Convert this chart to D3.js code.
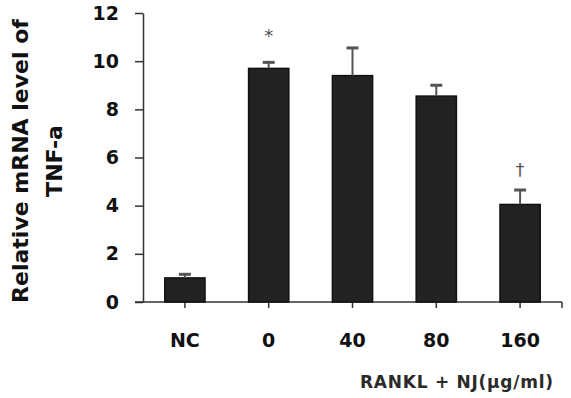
<!DOCTYPE html>
<html>
<head>
<meta charset="utf-8">
<script src="https://cdn.jsdelivr.net/npm/d3@7"></script>
<style>
  body { margin: 0; background: #fff; }
  svg { display: block; }
  .tick text { font-family: "DejaVu Sans", sans-serif; font-weight: bold; }
</style>
</head>
<body>
<svg id="chart" width="571" height="398"></svg>
<script>
// data
const categories = ['NC', '0', '40', '80', '160'];
const means = [1.0, 9.7, 9.4, 8.55, 4.05];
const errors = [0.15, 0.25, 1.15, 0.45, 0.6];
const marks = ['', '*', '', '', '†'];
const yTicks = [0, 2, 4, 6, 8, 10, 12];

const svg = d3.select('#chart');
const plotLeft = 143, plotRight = 562, plotTop = 13, plotBottom = 302;

const x = d3.scaleBand().domain(categories).range([plotLeft, plotRight]).paddingInner(0.52).paddingOuter(0.26);
const y = d3.scaleLinear().domain([0, 12]).range([plotBottom, plotTop]);

// y axis
const yAxis = svg.append('g')
  .attr('transform', `translate(${plotLeft},0)`)
  .call(d3.axisLeft(y).tickValues(yTicks).tickSize(8).tickPadding(16).tickSizeOuter(0));
yAxis.select('.domain').attr('stroke', '#333').attr('stroke-width', 1.5);
yAxis.selectAll('.tick line').attr('stroke', '#333').attr('stroke-width', 1.5);
yAxis.selectAll('.tick text').attr('font-size', 19).attr('fill', '#111');

// x axis line (extends slightly left of y axis) and ticks
svg.append('line')
  .attr('x1', plotLeft - 8).attr('x2', plotRight)
  .attr('y1', plotBottom).attr('y2', plotBottom)
  .attr('stroke', '#333').attr('stroke-width', 1.5);
svg.selectAll('.xtick')
  .data(categories)
  .join('line')
  .attr('x1', d => x(d) + x.bandwidth() / 2).attr('x2', d => x(d) + x.bandwidth() / 2)
  .attr('y1', plotBottom).attr('y2', plotBottom + 6)
  .attr('stroke', '#333').attr('stroke-width', 1.5);
svg.append('line')
  .attr('x1', plotRight).attr('x2', plotRight)
  .attr('y1', plotBottom).attr('y2', plotBottom + 6)
  .attr('stroke', '#333').attr('stroke-width', 1.5);

svg.selectAll('.xlab')
  .data(categories)
  .join('text')
  .attr('x', d => x(d) + x.bandwidth() / 2)
  .attr('y', 347)
  .attr('text-anchor', 'middle')
  .attr('font-family', '"DejaVu Sans", sans-serif')
  .attr('font-weight', 'bold')
  .attr('font-size', 19)
  .attr('fill', '#111')
  .text(d => d);

// bars
svg.selectAll('.bar')
  .data(categories)
  .join('rect')
  .attr('x', d => x(d))
  .attr('width', x.bandwidth())
  .attr('y', (d, i) => y(means[i]))
  .attr('height', (d, i) => plotBottom - y(means[i]))
  .attr('fill', '#222')
  .attr('stroke', '#111')
  .attr('stroke-width', 1.5);

// error bars
const err = svg.append('g');
categories.forEach((c, i) => {
  const cx = x(c) + x.bandwidth() / 2;
  err.append('line')
    .attr('x1', cx).attr('x2', cx)
    .attr('y1', y(means[i])).attr('y2', y(means[i] + errors[i]))
    .attr('stroke', '#555').attr('stroke-width', 2);
  err.append('line')
    .attr('x1', cx - 6).attr('x2', cx + 6)
    .attr('y1', y(means[i] + errors[i])).attr('y2', y(means[i] + errors[i]))
    .attr('stroke', '#555').attr('stroke-width', 3);
});

// significance marks
svg.selectAll('.mark')
  .data(categories)
  .join('text')
  .attr('x', d => x(d) + x.bandwidth() / 2)
  .attr('y', (d, i) => i === 1 ? 42 : 176)
  .attr('text-anchor', 'middle')
  .attr('font-family', '"DejaVu Sans", sans-serif')
  .attr('font-size', 18)
  .attr('fill', '#555')
  .text((d, i) => marks[i]);

// y axis title
const yt = svg.append('text')
  .attr('transform', 'translate(30,161) rotate(-90)')
  .attr('text-anchor', 'middle')
  .attr('font-family', '"DejaVu Sans", sans-serif')
  .attr('font-weight', 'bold')
  .attr('font-size', 22)
  .attr('fill', '#111');
yt.append('tspan').attr('x', 0).attr('y', -2).text('Relative mRNA level of');
yt.append('tspan').attr('x', 0).attr('y', 32).text('TNF-a');

// x axis caption
svg.append('text')
  .attr('x', 360).attr('y', 388)
  .attr('textLength', 193)
  .attr('lengthAdjust', 'spacing')
  .attr('font-family', '"DejaVu Sans", sans-serif')
  .attr('font-weight', 'bold')
  .attr('font-size', 17)
  .attr('fill', '#2a2a2a')
  .text('RANKL + NJ(μg/ml)');
</script>
</body>
</html>
